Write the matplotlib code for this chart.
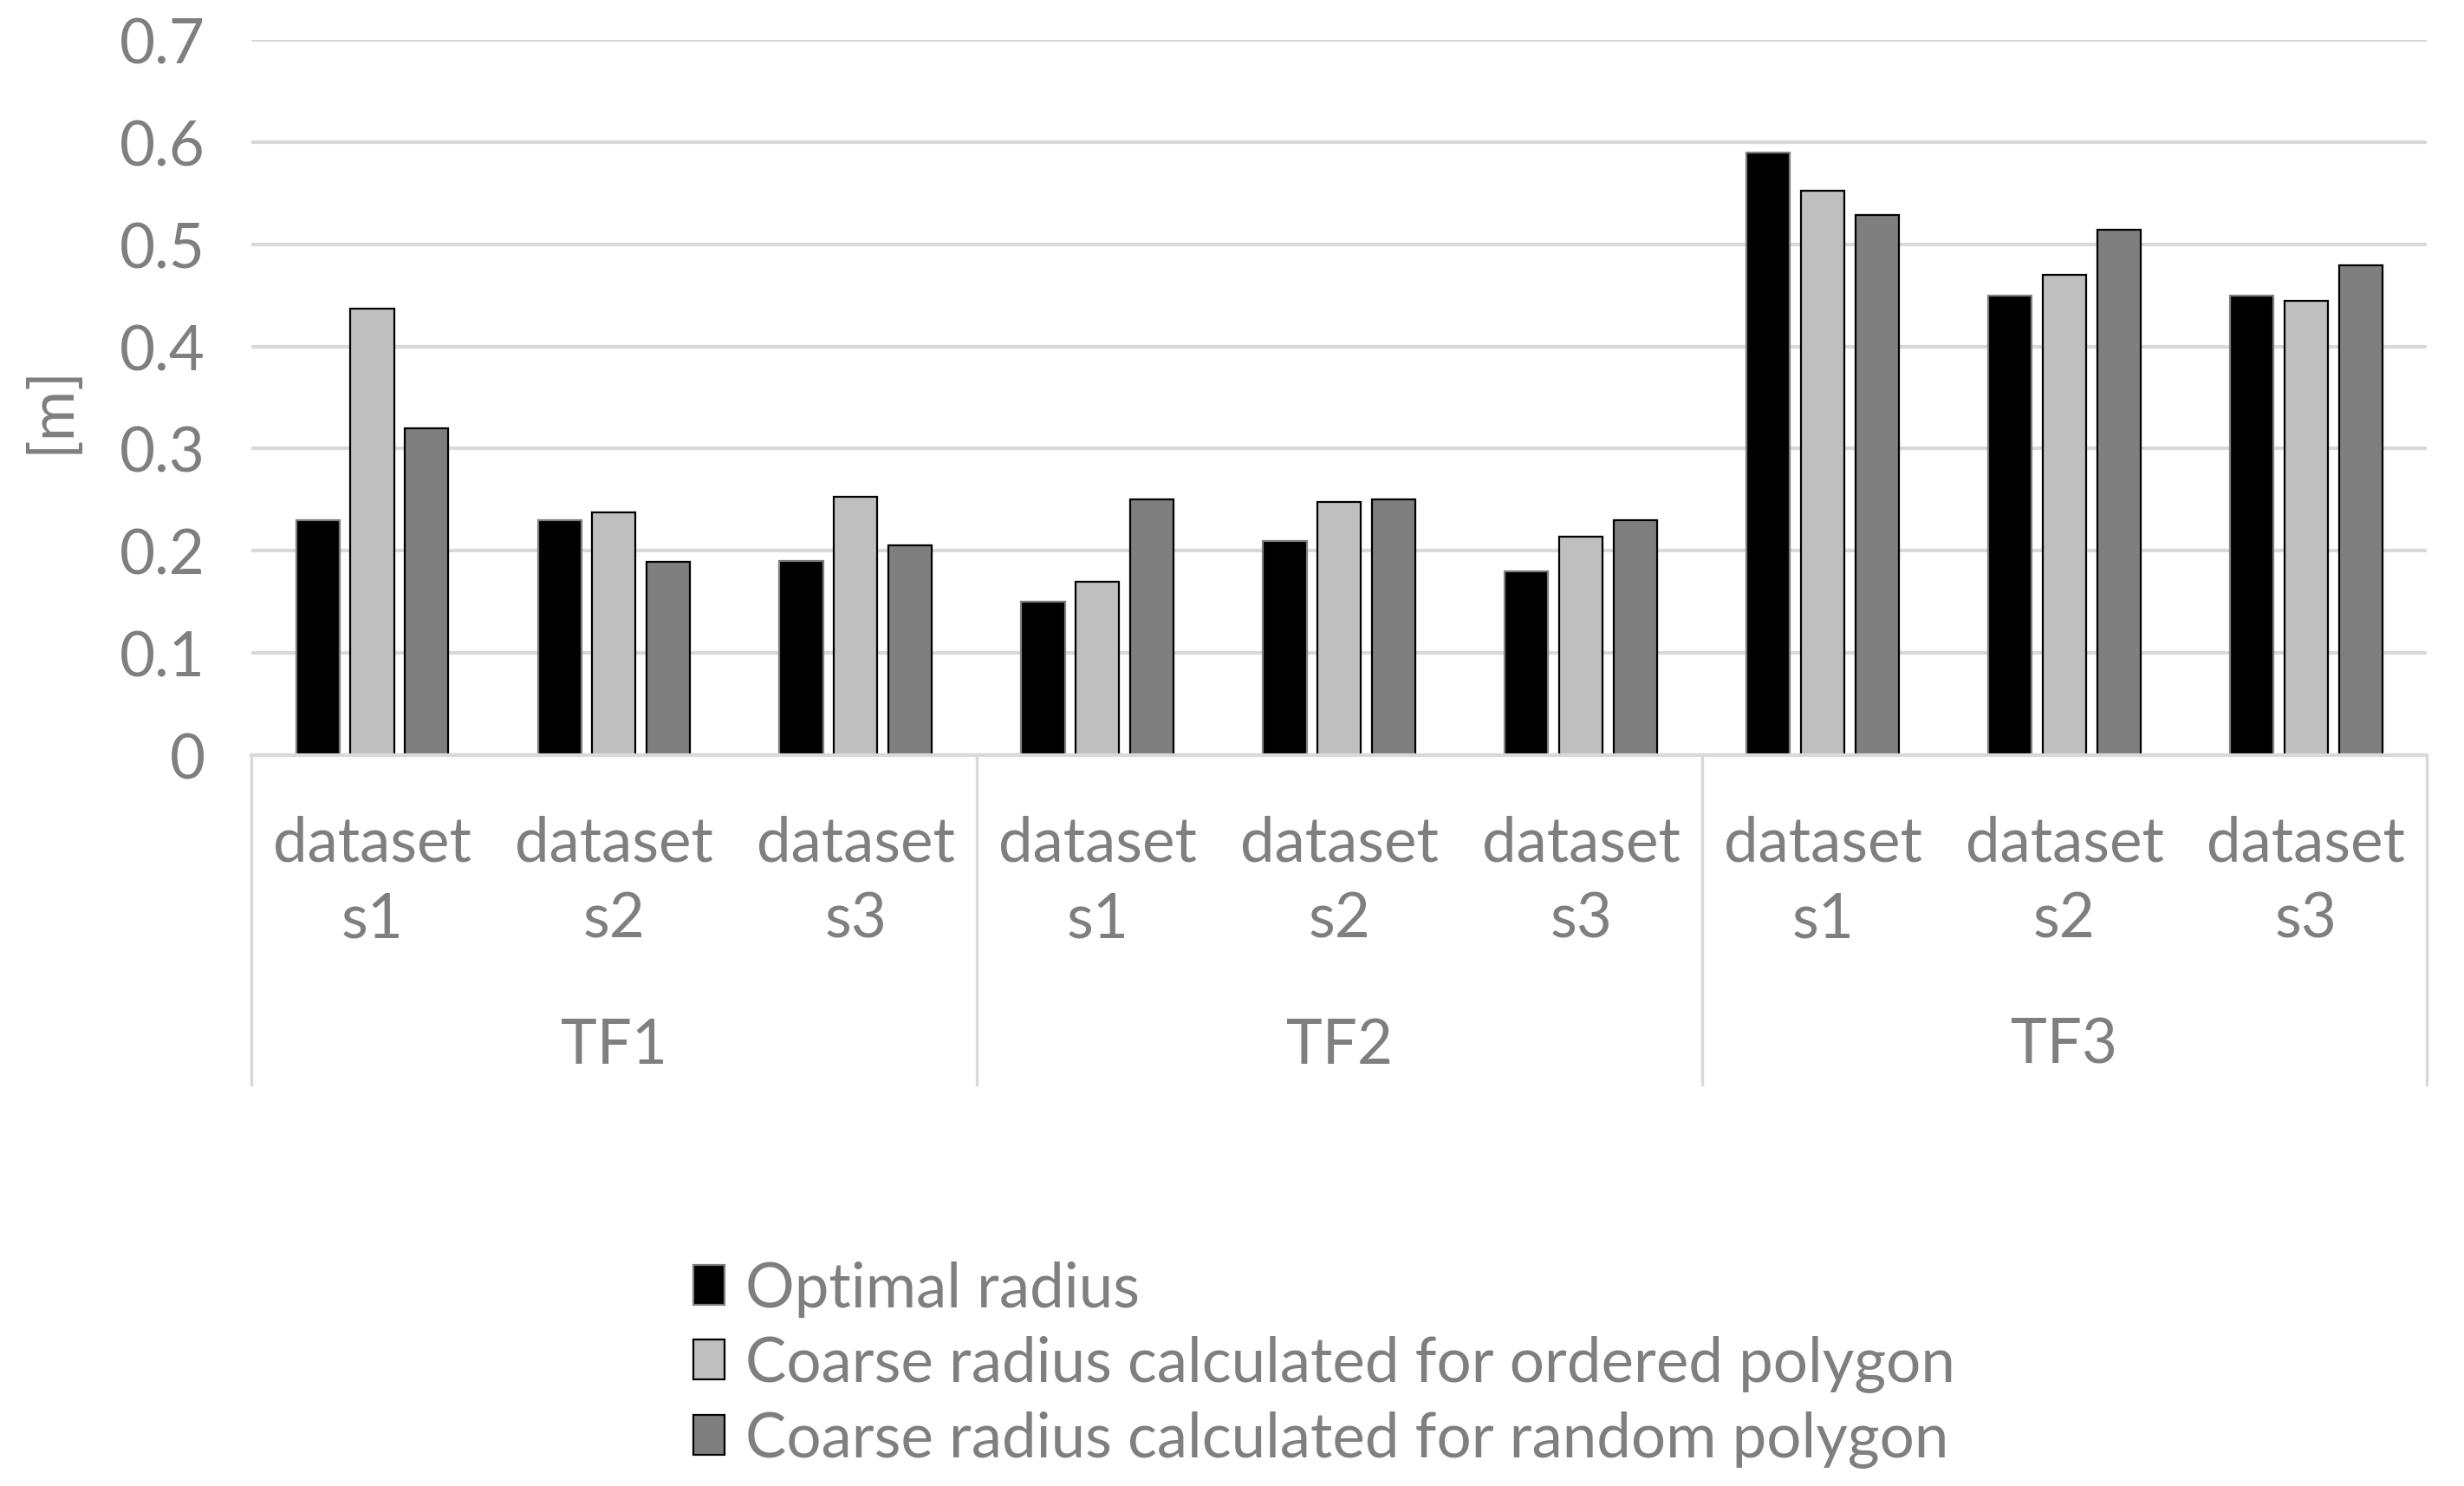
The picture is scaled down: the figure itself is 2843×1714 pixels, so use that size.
import matplotlib.pyplot as plt
import matplotlib.transforms as mtransforms
import numpy as np

plt.rcParams['font.family'] = ['Lato', 'DejaVu Sans']

groups = ["TF1", "TF2", "TF3"]
datasets = ["s1", "s2", "s3"]
series_names = ["Optimal radius",
                "Coarse radius calculated for ordered polygon",
                "Coarse radius calculated for random polygon"]
optimal = [0.23, 0.23, 0.19, 0.15, 0.21, 0.18, 0.59, 0.45, 0.45]
ordered = [0.437, 0.238, 0.253, 0.17, 0.248, 0.214, 0.552, 0.47, 0.445]
random_poly = [0.32, 0.189, 0.205, 0.25, 0.25, 0.23, 0.529, 0.514, 0.479]

fill_colors = ["#000000", "#bfbfbf", "#7f7f7f"]
edge_colors = ["#7f7f7f", "#000000", "#000000"]
text_color = "#7f7f7f"
grid_color = "#d9d9d9"
fs = 51

fig = plt.figure(figsize=(28.43, 17.15), dpi=100)
ax = fig.add_axes([0.102, 0.4915, 0.883, 0.4811])

x = np.arange(len(optimal))
width = 0.18
step = 0.225
for i, vals in enumerate([optimal, ordered, random_poly]):
    ax.bar(x + (i - 1) * step, vals, width, color=fill_colors[i],
           edgecolor=edge_colors[i], linewidth=1.6, label=series_names[i], zorder=3)

ax.set_xlim(-0.5, len(optimal) - 0.5)
ax.set_ylim(0, 0.7)
ax.set_yticks(np.arange(0, 0.71, 0.1))
ax.set_yticklabels(["0", "0.1", "0.2", "0.3", "0.4", "0.5", "0.6", "0.7"])
ax.yaxis.grid(True, color=grid_color, linewidth=3, zorder=0)
ax.tick_params(axis='y', length=0, pad=38, labelsize=fs, labelcolor=text_color)
for s in ["top", "right", "left"]:
    ax.spines[s].set_visible(False)
ax.spines["bottom"].set_color(grid_color)
ax.spines["bottom"].set_linewidth(3)
ax.spines["bottom"].set_zorder(4)

ax.set_xticks(x)
ax.set_xticklabels(["dataset\n" + d for g in groups for d in datasets],
                   linespacing=1.45)
ax.tick_params(axis='x', length=0, pad=49, labelsize=fs, labelcolor=text_color)

trans = mtransforms.blended_transform_factory(ax.transData, ax.transAxes)
bounds = np.arange(len(groups) + 1) * 3 - 0.5
for b in bounds:
    ax.plot([b, b], [0, -0.46], transform=trans, color=grid_color,
            linewidth=2.5, clip_on=False)
for gi, g in enumerate(groups):
    ax.text(gi * 3 + 1, -0.405, g, transform=trans, ha='center', va='center',
            fontsize=fs, color=text_color)

ax.set_ylabel("[m]", fontsize=fs, color=text_color)
ax.yaxis.set_label_coords(-0.079, 0.485)

leg = fig.legend(loc='upper left', bbox_to_anchor=(0.259, 0.189), frameon=False,
                 fontsize=fs, handlelength=0.51, handleheight=0.62,
                 handletextpad=0.33, labelspacing=0.3, labelcolor=text_color)

fig.savefig("out.png", dpi=100)
